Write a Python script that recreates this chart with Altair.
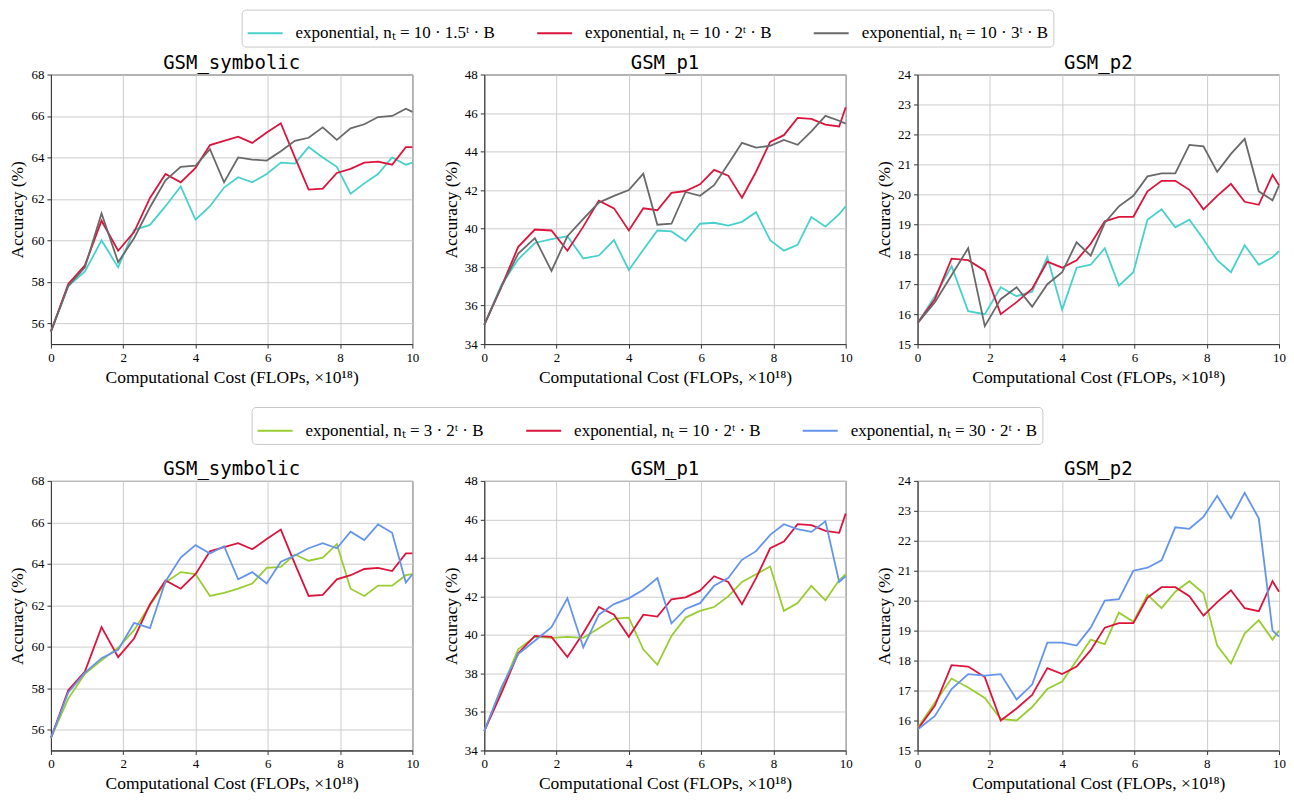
import altair as alt
import pandas as pd

# ---------------- data ----------------
X_COST = [0, 0.48, 0.94, 1.40, 1.86, 2.30, 2.74, 3.17, 3.59, 4.00, 4.40, 4.79, 5.18,
          5.57, 5.97, 6.36, 6.75, 7.13, 7.52, 7.91, 8.29, 8.67, 9.05, 9.44, 9.82, 10.0]

# shared series: exponential n_t = 10 * 2^t * B
RED_SYM = [55.6, 57.9, 58.8, 60.95, 59.5, 60.4, 62.05, 63.2, 62.8, 63.5, 64.6, 64.8, 65.0,
           64.7, 65.2, 65.65, 64.0, 62.45, 62.5, 63.25, 63.45, 63.75, 63.8, 63.65, 64.5, 64.5]
RED_P1 = [35.0, 37.0, 39.05, 39.95, 39.9, 38.85, 40.1, 41.45, 41.05, 39.9, 41.05, 40.95, 41.85,
          41.95, 42.3, 43.05, 42.75, 41.6, 42.95, 44.5, 44.85, 45.75, 45.7, 45.4, 45.3, 46.3]
RED_P2 = [15.7, 16.5, 17.85, 17.8, 17.45, 16.0, 16.4, 16.85, 17.75, 17.55, 17.8, 18.35, 19.1,
          19.25, 19.25, 20.1, 20.45, 20.45, 20.15, 19.5, 19.95, 20.35, 19.75, 19.65, 20.65, 20.3]

# row 1: growth base
CYAN_SYM = [55.6, 57.8, 58.5, 60.0, 58.7, 60.5, 60.75, 61.65, 62.6, 61.0, 61.65, 62.55, 63.05,
            62.8, 63.2, 63.75, 63.7, 64.5, 64.0, 63.55, 62.25, 62.75, 63.2, 64.0, 63.65, 63.75]
GRAY_SYM = [55.6, 57.8, 58.7, 61.3, 58.95, 60.1, 61.6, 62.9, 63.55, 63.6, 64.4, 62.8, 64.0,
            63.9, 63.85, 64.3, 64.8, 64.95, 65.45, 64.85, 65.4, 65.6, 65.95, 66.0, 66.35, 66.2]
CYAN_P1 = [35.0, 37.1, 38.4, 39.25, 39.45, 39.6, 38.45, 38.6, 39.4, 37.85, 38.9, 39.9, 39.85,
           39.35, 40.25, 40.3, 40.15, 40.35, 40.85, 39.4, 38.85, 39.15, 40.6, 40.1, 40.75, 41.15]
GRAY_P1 = [35.0, 37.0, 38.7, 39.5, 37.8, 39.6, 40.5, 41.35, 41.7, 42.0, 42.85, 40.2, 40.25,
           41.9, 41.7, 42.25, 43.35, 44.45, 44.2, 44.3, 44.6, 44.35, 45.05, 45.85, 45.6, 45.45]
CYAN_P2 = [15.7, 16.6, 17.6, 16.1, 16.0, 16.9, 16.6, 16.75, 17.9, 16.15, 17.55, 17.65, 18.2,
           16.95, 17.4, 19.15, 19.5, 18.9, 19.15, 18.5, 17.8, 17.4, 18.3, 17.65, 17.9, 18.1]
GRAY_P2 = [15.7, 16.4, 17.3, 18.2, 15.6, 16.5, 16.9, 16.25, 17.0, 17.4, 18.4, 17.95, 19.05,
           19.6, 19.95, 20.6, 20.7, 20.7, 21.65, 21.6, 20.75, 21.35, 21.85, 20.1, 19.8, 20.3]

# row 2: initial size
GREEN_SYM = [55.6, 57.5, 58.7, 59.35, 59.95, 60.8, 62.0, 63.1, 63.6, 63.5, 62.45, 62.6, 62.8,
             63.05, 63.8, 63.85, 64.45, 64.15, 64.3, 64.95, 62.8, 62.45, 62.95, 62.95, 63.45, 63.5]
BLUE_SYM = [55.6, 57.8, 58.75, 59.45, 59.85, 61.15, 60.9, 63.15, 64.3, 64.9, 64.5, 64.85, 63.25,
            63.6, 63.05, 64.1, 64.4, 64.75, 65.0, 64.75, 65.55, 65.15, 65.9, 65.5, 63.1, 63.5]
GREEN_P1 = [35.0, 37.2, 39.25, 39.9, 39.85, 39.9, 39.85, 40.35, 40.85, 40.9, 39.25, 38.45, 39.95,
            40.9, 41.25, 41.45, 42.0, 42.75, 43.15, 43.55, 41.25, 41.65, 42.55, 41.8, 42.85, 43.15]
BLUE_P1 = [35.0, 37.3, 39.0, 39.7, 40.4, 41.9, 39.35, 41.05, 41.6, 41.9, 42.35, 42.95, 40.6,
           41.35, 41.65, 42.55, 42.95, 43.9, 44.35, 45.2, 45.75, 45.5, 45.35, 45.9, 42.75, 43.05]
GREEN_P2 = [15.75, 16.6, 17.4, 17.1, 16.75, 16.05, 16.0, 16.45, 17.05, 17.3, 18.0, 18.7, 18.55,
            19.6, 19.3, 20.2, 19.75, 20.3, 20.65, 20.25, 18.5, 17.9, 18.9, 19.35, 18.7, 19.0]
BLUE_P2 = [15.7, 16.15, 17.05, 17.55, 17.5, 17.55, 16.7, 17.2, 18.6, 18.6, 18.5, 19.1, 20.0,
           20.05, 21.0, 21.1, 21.35, 22.45, 22.4, 22.8, 23.5, 22.75, 23.6, 22.75, 19.0, 18.8]

ROW1_NAMES = ["exponential, nₜ = 10 · 1.5ᵗ · B", "exponential, nₜ = 10 · 2ᵗ · B",
              "exponential, nₜ = 10 · 3ᵗ · B"]
ROW2_NAMES = ["exponential, nₜ = 3 · 2ᵗ · B", "exponential, nₜ = 10 · 2ᵗ · B",
              "exponential, nₜ = 30 · 2ᵗ · B"]
ROW1_COLORS = ["#48d1cc", "#dc143c", "#696969"]
ROW2_COLORS = ["#9acd32", "#dc143c", "#6495ed"]

TITLES = ["GSM_symbolic", "GSM_p1", "GSM_p2"]
Y_DOMAINS = [[55, 68], [34, 48], [15, 24]]
Y_TICKS = [[56, 58, 60, 62, 64, 66, 68], [34, 36, 38, 40, 42, 44, 46, 48],
           [15, 16, 17, 18, 19, 20, 21, 22, 23, 24]]
X_TICKS = [0, 2, 4, 6, 8, 10]

PW, PH = 362, 270


def make_panel(title, y_domain, y_ticks, names, series, colors, legend):
    rows = []
    for name, vals in zip(names, series):
        for xv, yv in zip(X_COST, vals):
            rows.append({"cost": xv, "acc": yv, "run": name})
    df = pd.DataFrame(rows)
    return alt.Chart(df).mark_line(strokeWidth=1.8).encode(
        x=alt.X("cost:Q", scale=alt.Scale(domain=[0, 10], nice=False, zero=False),
                axis=alt.Axis(values=X_TICKS, title="Computational Cost (FLOPs, ×10¹⁸)",
                              labelFlush=False)),
        y=alt.Y("acc:Q", scale=alt.Scale(domain=y_domain, nice=False, zero=False),
                axis=alt.Axis(values=y_ticks, title="Accuracy (%)")),
        color=alt.Color("run:N", scale=alt.Scale(domain=names, range=colors), legend=legend),
    ).properties(
        width=PW, height=PH,
        title=alt.Title(title, font="DejaVu Sans Mono", fontSize=19, fontWeight="normal",
                        offset=-4, color="black"),
    )


def make_legend(x, y):
    return alt.Legend(orient="none", legendX=x, legendY=y, direction="horizontal", title=None)


row1_series = [
    [CYAN_SYM, RED_SYM, GRAY_SYM],
    [CYAN_P1, RED_P1, GRAY_P1],
    [CYAN_P2, RED_P2, GRAY_P2],
]
row2_series = [
    [GREEN_SYM, RED_SYM, BLUE_SYM],
    [GREEN_P1, RED_P1, BLUE_P1],
    [GREEN_P2, RED_P2, BLUE_P2],
]

leg1 = make_legend(191, -65)
leg2 = make_legend(201, -74)

row1 = alt.hconcat(
    *[make_panel(TITLES[i], Y_DOMAINS[i], Y_TICKS[i], ROW1_NAMES, row1_series[i], ROW1_COLORS, leg1)
      for i in range(3)],
    spacing=72, bounds="flush",
).resolve_scale(x="independent", y="independent", color="shared")

row2 = alt.hconcat(
    *[make_panel(TITLES[i], Y_DOMAINS[i], Y_TICKS[i], ROW2_NAMES, row2_series[i], ROW2_COLORS, leg2)
      for i in range(3)],
    spacing=72, bounds="flush",
).resolve_scale(x="independent", y="independent", color="shared")

chart = alt.vconcat(row1, row2, spacing=20).resolve_scale(
    color="independent"
).properties(padding=0).configure_view(
    stroke="#333333", strokeWidth=1
).configure_axis(
    labelFont="Liberation Serif", labelFontSize=13, labelColor="black",
    titleFont="Liberation Serif", titleFontSize=17.5, titleFontWeight="normal", titleColor="black",
    gridColor="#cccccc", gridWidth=1, domainColor="#333333", tickColor="#333333",
    tickSize=4, labelPadding=3, titlePadding=4,
).configure_legend(
    labelFont="Liberation Serif", labelFontSize=17, labelColor="black", labelLimit=400,
    symbolType="stroke", symbolSize=1225, symbolStrokeWidth=2, labelOffset=12,
    columnPadding=38, padding=5, strokeColor="#c8c8c8", fillColor="white", cornerRadius=4,
)

chart.save("out.html", embed_options={"renderer": "svg", "actions": False})
